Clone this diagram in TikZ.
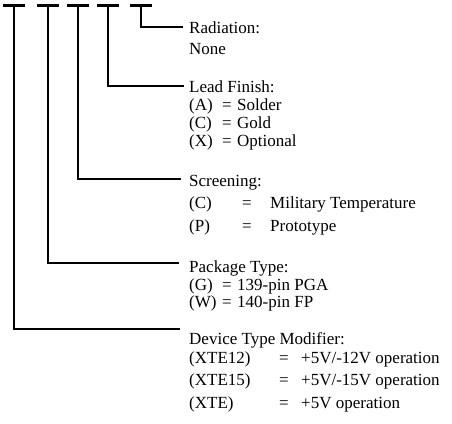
\documentclass[tikz,border=0pt]{standalone}
\usepackage{fontspec}
\setmainfont{Liberation Serif}
\begin{document}
\begin{tikzpicture}[x=1pt,y=-1pt,
  tbar/.style={line width=3pt},
  leader/.style={line width=1.8pt,line join=miter},
  txt/.style={anchor=base west,inner sep=0pt,font=\fontsize{17}{20}\selectfont},
  ]
\useasboundingbox (0,0) rectangle (452,423);
% T bars
\coordinate (t1l) at (3,5);   \coordinate (t1r) at (25,5);
\coordinate (t2l) at (37,5);  \coordinate (t2r) at (59,5);
\coordinate (t3l) at (67,5);  \coordinate (t3r) at (89,5);
\coordinate (t4l) at (97,5);  \coordinate (t4r) at (119,5);
\coordinate (t5l) at (130,5); \coordinate (t5r) at (152,5);
\draw[tbar] (t1l) -- (t1r);
\draw[tbar] (t2l) -- (t2r);
\draw[tbar] (t3l) -- (t3r);
\draw[tbar] (t4l) -- (t4r);
\draw[tbar] (t5l) -- (t5r);
\coordinate (t1) at (14,5);
\coordinate (t2) at (48,5);
\coordinate (t3) at (78,5);
\coordinate (t4) at (108,5);
\coordinate (t5) at (141,5);
% leader ends
\coordinate (e5) at (183,27);
\coordinate (e4) at (184,86);
\coordinate (e3) at (181,179);
\coordinate (e2) at (179,263);
\coordinate (e1) at (180,329);
\draw[leader] (t5) |- (e5);
\draw[leader] (t4) |- (e4);
\draw[leader] (t3) |- (e3);
\draw[leader] (t2) |- (e2);
\draw[leader] (t1) |- (e1);
% Radiation
\node[txt] (rad) at (189,33) {Radiation:};
\node[txt] (radn) at (189,54) {None};
% Lead finish
\node[txt] (lf) at (189,92) {Lead Finish:};
\node[txt] (lfa) at (189,110) {(A)};
\node[txt] (lfae) at (222,110) {=};
\node[txt] (lfav) at (237,110) {Solder};
\node[txt] (lfc) at (189,128) {(C)};
\node[txt] (lfce) at (222,128) {=};
\node[txt] (lfcv) at (237,128) {Gold};
\node[txt] (lfx) at (189,146) {(X)};
\node[txt] (lfxe) at (222,146) {=};
\node[txt] (lfxv) at (237,146) {Optional};
% Screening
\node[txt] (sc) at (189,186) {Screening:};
\node[txt] (scc) at (189,208) {(C)};
\node[txt] (scce) at (242,208) {=};
\node[txt] (sccv) at (270,208) {Military Temperature};
\node[txt] (scp) at (189,231) {(P)};
\node[txt] (scpe) at (242,231) {=};
\node[txt] (scpv) at (270,231) {Prototype};
% Package
\node[txt] (pk) at (189,272) {Package Type:};
\node[txt] (pkg) at (189,290) {(G)};
\node[txt] (pkge) at (222,290) {=};
\node[txt] (pkgv) at (237,290) {139-pin PGA};
\node[txt] (pkw) at (189,307) {(W)};
\node[txt] (pkwe) at (222,307) {=};
\node[txt] (pkwv) at (237,307) {140-pin FP};
% Device
\node[txt] (dv) at (189,344) {Device Type Modifier:};
\node[txt] (dv1) at (189,363) {(XTE12)};
\node[txt] (dv1e) at (279,363) {=};
\node[txt] (dv1v) at (301,363) {+5V/-12V operation};
\node[txt] (dv2) at (189,385) {(XTE15)};
\node[txt] (dv2e) at (279,385) {=};
\node[txt] (dv2v) at (301,385) {+5V/-15V operation};
\node[txt] (dv3) at (189,408) {(XTE)};
\node[txt] (dv3e) at (279,408) {=};
\node[txt] (dv3v) at (301,408) {+5V operation};
\end{tikzpicture}
\end{document}
